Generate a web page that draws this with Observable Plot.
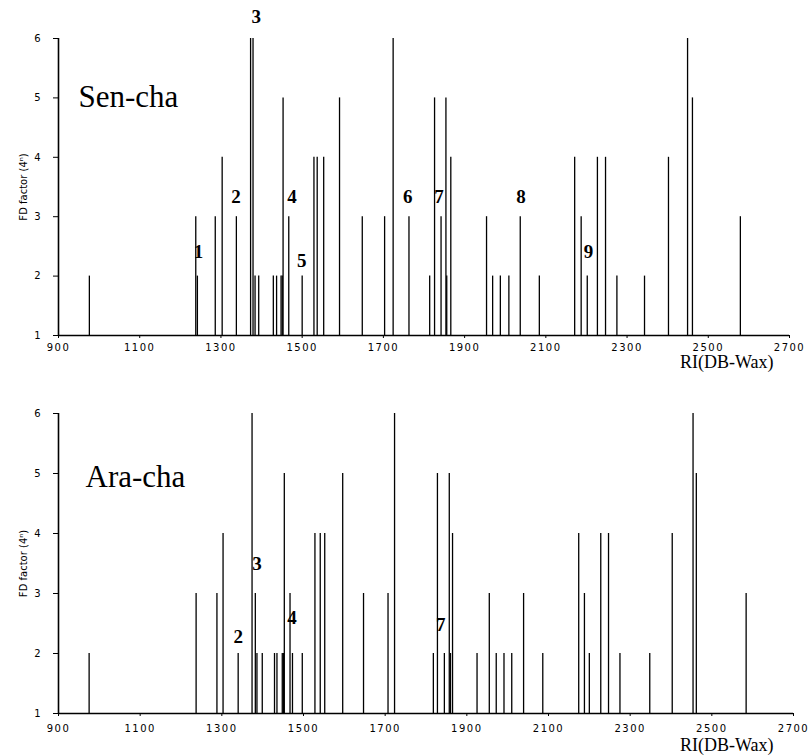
<!DOCTYPE html>
<html>
<head>
<meta charset="utf-8">
<script src="https://cdn.jsdelivr.net/npm/d3@7"></script>
<script src="https://cdn.jsdelivr.net/npm/@observablehq/plot@0.6"></script>
<style>
  body { margin: 0; background: #fff; }
  #chart { width: 809px; }
  #chart svg { display: block; }
  #chart svg [aria-label="x-axis tick label"] text,
  #chart svg [aria-label="x-axis"] text { font-size: 10px; letter-spacing: 1.5px; }
  #chart svg [aria-label="y-axis tick label"] text,
  #chart svg [aria-label="y-axis"] text { font-size: 10px; }
</style>
</head>
<body>
<div id="chart"></div>
<script>
// ---- data ----
const xTicks = [900, 1100, 1300, 1500, 1700, 1900, 2100, 2300, 2500, 2700];
const yTicks = [1, 2, 3, 4, 5, 6];
const xTitle = "RI(DB-Wax)";
const yTitle = "FD factor (4ⁿ)";

const senchaTitle = "Sen-cha";
const senchaRI = [976, 1238, 1242, 1286, 1303, 1338, 1373, 1379, 1384, 1393,
  1429, 1437, 1448, 1451, 1453, 1467, 1500, 1529, 1537, 1553,
  1592, 1648, 1703, 1724, 1763, 1814, 1826, 1842, 1854, 1856,
  1866, 1954, 1969, 1988, 2009, 2037, 2084, 2171, 2187, 2202,
  2227, 2247, 2275, 2343, 2402, 2449, 2461, 2579];
const senchaFD = [2, 3, 2, 3, 4, 3, 6, 6, 2, 2,
  2, 2, 2, 2, 5, 3, 2, 4, 4, 4,
  5, 3, 3, 6, 3, 2, 5, 3, 5, 2,
  4, 3, 2, 2, 2, 3, 2, 4, 3, 2,
  4, 4, 2, 2, 4, 6, 5, 3];
const senchaLabels = ["1", "2", "3", "4", "5", "6", "7", "8", "9"];
const senchaLabelRI = [1245, 1337, 1387, 1475, 1499, 1760, 1837, 2039, 2205];
const senchaLabelFD = [2.4, 3.33, 6.36, 3.33, 2.26, 3.33, 3.33, 3.33, 2.4];

const arachaTitle = "Ara-cha";
const arachaRI = [975, 1237, 1288, 1303, 1340, 1374, 1382, 1386, 1399, 1429,
  1435, 1448, 1451, 1453, 1467, 1473, 1497, 1528, 1541, 1552,
  1596, 1647, 1707, 1723, 1818, 1828, 1845, 1857, 1860, 1865,
  1925, 1955, 1972, 1991, 2010, 2039, 2086, 2174, 2188, 2200,
  2228, 2247, 2275, 2348, 2403, 2454, 2462, 2584];
const arachaFD = [2, 3, 3, 4, 2, 6, 3, 2, 2, 2,
  2, 2, 2, 5, 3, 2, 2, 4, 4, 4,
  5, 3, 3, 6, 2, 5, 2, 5, 2, 4,
  2, 3, 2, 2, 2, 3, 2, 4, 3, 2,
  4, 4, 2, 2, 4, 6, 5, 3];
const arachaLabels = ["2", "3", "4", "7"];
const arachaLabelRI = [1340, 1386, 1472, 1836];
const arachaLabelFD = [2.27, 3.5, 2.6, 2.47];

// ---- drawing ----
function panel(o) {
  const data = o.ri.map((x, i) => ({ri: x, fd: o.fd[i]}));
  const lab = o.labels.map((t, i) => ({t, ri: o.labelRI[i], fd: o.labelFD[i]}));
  return Plot.plot({
    width: 809,
    height: o.height,
    marginLeft: 58,
    marginRight: o.marginRight,
    marginTop: o.marginTop,
    marginBottom: o.marginBottom,
    style: {background: "#fff", color: "#000", fontFamily: "'DejaVu Sans', sans-serif"},
    x: {domain: [900, 2700], ticks: xTicks, tickFormat: d => String(d), tickSize: 3, tickPadding: o.xPad, label: null},
    y: {domain: [1, 6], ticks: yTicks, tickFormat: d => String(d), tickSize: 5, tickPadding: 13, label: null},
    marks: [
      Plot.ruleX(data, {x: "ri", y1: 1, y2: "fd", stroke: "#000", strokeWidth: 1.3}),
      Plot.ruleY([1], {stroke: "#000", strokeWidth: 1.6}),
      Plot.ruleX([900], {stroke: "#000", strokeWidth: 1.6}),
      Plot.text(lab, {x: "ri", y: "fd", text: "t", fontFamily: "'Liberation Serif', serif",
        fontWeight: "bold", fontSize: 19, lineAnchor: "middle", fill: "#000"}),
      Plot.text([o.title], {frameAnchor: "top-left", dx: o.titleDx, dy: o.titleDy, textAnchor: "start",
        lineAnchor: "middle", fontFamily: "'Liberation Serif', serif", fontSize: 31, fill: "#000"}),
      Plot.text([xTitle], {frameAnchor: "bottom-right", dx: o.xtDx, dy: o.xtDy, textAnchor: "end",
        lineAnchor: "middle", fontFamily: "'Liberation Serif', serif", fontSize: 18, fill: "#000"}),
      Plot.text([yTitle], {frameAnchor: "left", dx: -35, rotate: -90, textAnchor: "middle",
        lineAnchor: "middle", fontFamily: "'DejaVu Sans', sans-serif", fontSize: 10, fill: "#000"})
    ]
  });
}

const root = document.getElementById("chart");
root.appendChild(panel({
  ri: senchaRI, fd: senchaFD, labels: senchaLabels, labelRI: senchaLabelRI, labelFD: senchaLabelFD,
  title: senchaTitle, height: 374, marginTop: 38, marginBottom: 39, marginRight: 20, xPad: 5,
  titleDx: 20, titleDy: 59, xtDx: -16, xtDy: 27
}));
root.appendChild(panel({
  ri: arachaRI, fd: arachaFD, labels: arachaLabels, labelRI: arachaLabelRI, labelFD: arachaLabelFD,
  title: arachaTitle, height: 381, marginTop: 39, marginBottom: 42, marginRight: 16, xPad: 8,
  titleDx: 27, titleDy: 64, xtDx: -20, xtDy: 32
}));
</script>
</body>
</html>
